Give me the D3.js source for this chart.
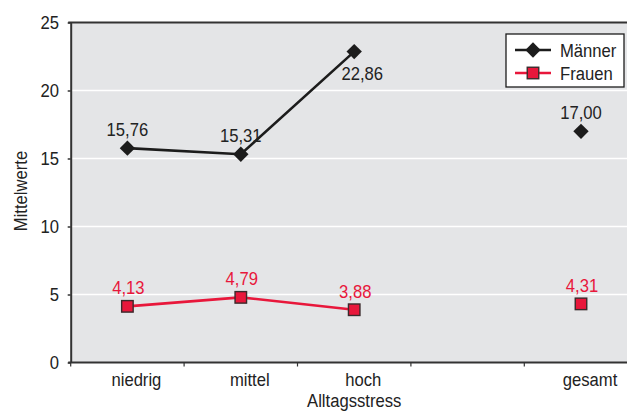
<!DOCTYPE html>
<html>
<head>
<meta charset="utf-8">
<script src="https://cdn.jsdelivr.net/npm/d3@7/dist/d3.min.js"></script>
<style>
  html, body { margin: 0; padding: 0; background: #ffffff; }
  svg { display: block; }
  text { font-family: "Liberation Sans", Arial, sans-serif; }
</style>
</head>
<body>
<script>
// Mean scores by level of everyday stress, plus the overall mean
const categories = ["niedrig", "mittel", "hoch", "", "gesamt"];
const maennerValues = [15.76, 15.31, 22.86, null, 17.00];
const frauenValues = [4.13, 4.79, 3.88, null, 4.31];
const maennerLabels = ["15,76", "15,31", "22,86", null, "17,00"];
const frauenLabels = ["4,13", "4,79", "3,88", null, "4,31"];
const yTicks = [0, 5, 10, 15, 20, 25];
const seriesNames = ["Männer", "Frauen"];

const W = 627, H = 412;
const plot = { left: 70.7, right: 637.7, top: 22.5, bottom: 362.5 };
const colMen = "#1c1c1c";
const colWomen = "#e8173b";
const colText = "#222222";
const fs = 18.5;
const squeeze = 0.9; // condensed lettering

const svg = d3.select("body").append("svg")
  .attr("width", W).attr("height", H);

// condensed text helper
function label(parent, px, py, str, anchor, color, rotate) {
  return parent.append("text")
    .attr("transform", `translate(${px},${py})` + (rotate ? ` rotate(${rotate})` : "") + ` scale(${squeeze},1)`)
    .attr("text-anchor", anchor)
    .attr("font-size", fs)
    .attr("fill", color)
    .text(str);
}

const x = d3.scaleBand().domain(categories).range([plot.left, plot.right]).padding(0);
const y = d3.scaleLinear().domain([0, 25]).range([plot.bottom, plot.top]);
const cx = (i) => x(categories[i]) + x.bandwidth() / 2;

// plot background
svg.append("rect")
  .attr("x", plot.left).attr("y", plot.top)
  .attr("width", plot.right - plot.left).attr("height", plot.bottom - plot.top)
  .attr("fill", "#e4e5e7");

// horizontal gridlines
svg.append("g").selectAll("line")
  .data(yTicks.filter(v => v > 0 && v < 25))
  .join("line")
  .attr("x1", plot.left).attr("x2", plot.right)
  .attr("y1", d => y(d)).attr("y2", d => y(d))
  .attr("stroke", "#ffffff").attr("stroke-width", 1.5);

// frame top
svg.append("line")
  .attr("x1", plot.left - 2.5).attr("x2", plot.right)
  .attr("y1", plot.top).attr("y2", plot.top)
  .attr("stroke", "#333333").attr("stroke-width", 2);

// y axis
const yAxis = svg.append("g")
  .attr("transform", `translate(${plot.left},0)`)
  .call(d3.axisLeft(y).tickValues(yTicks).tickSize(3).tickSizeOuter(0).tickFormat(""));
yAxis.select(".domain").attr("stroke", "#333333").attr("stroke-width", 2);
yAxis.selectAll(".tick line").attr("stroke", "#333333").attr("stroke-width", 1.5);
const yLab = svg.append("g");
yTicks.forEach(v => label(yLab, 59, y(v) + 6.6, d3.format("d")(v), "end", colText));

// x axis: baseline and ticks at band edges
svg.append("line")
  .attr("x1", plot.left - 2.5).attr("x2", plot.right)
  .attr("y1", plot.bottom).attr("y2", plot.bottom)
  .attr("stroke", "#333333").attr("stroke-width", 2);
svg.append("g").selectAll("line")
  .data(categories)
  .join("line")
  .attr("x1", d => x(d)).attr("x2", d => x(d))
  .attr("y1", plot.bottom).attr("y2", plot.bottom + 4)
  .attr("stroke", "#333333").attr("stroke-width", 1.2);
const xLab = svg.append("g");
categories.forEach((c, i) => { if (c) label(xLab, cx(i) + 9, 385.5, c, "middle", colText); });

// axis titles
label(svg, (plot.left + plot.right) / 2, 406.5, "Alltagsstress", "middle", colText);
label(svg, 27, 191, "Mittelwerte", "middle", colText, -90);

// lines
const line = d3.line()
  .defined(d => d.v != null)
  .x(d => cx(d.i))
  .y(d => y(d.v));
const menData = maennerValues.map((v, i) => ({ v, i, label: maennerLabels[i] }));
const womenData = frauenValues.map((v, i) => ({ v, i, label: frauenLabels[i] }));

svg.append("path").datum(womenData)
  .attr("d", line).attr("fill", "none")
  .attr("stroke", colWomen).attr("stroke-width", 2.6);
svg.append("path").datum(menData)
  .attr("d", line).attr("fill", "none")
  .attr("stroke", colMen).attr("stroke-width", 2.6);

// markers
const diamond = d3.symbol().type(d3.symbolDiamond2).size(150);
svg.append("g").selectAll("path")
  .data(menData.filter(d => d.v != null))
  .join("path")
  .attr("transform", d => `translate(${cx(d.i)},${y(d.v)})`)
  .attr("d", diamond)
  .attr("fill", colMen);

const sq = 11.5;
svg.append("g").selectAll("rect")
  .data(womenData.filter(d => d.v != null))
  .join("rect")
  .attr("x", d => cx(d.i) - sq / 2).attr("y", d => y(d.v) - sq / 2)
  .attr("width", sq).attr("height", sq)
  .attr("fill", colWomen).attr("stroke", "#3a2a2c").attr("stroke-width", 1.4);

// value labels
const vLab = svg.append("g");
menData.filter(d => d.v != null).forEach(d => {
  const below = d.i === 2;
  label(vLab, cx(d.i) + (below ? 8 : 0), y(d.v) + (below ? 28 : -12), d.label, "middle", colText);
});
womenData.filter(d => d.v != null).forEach(d => {
  label(vLab, cx(d.i) + 1, y(d.v) - 12, d.label, "middle", colWomen);
});

// legend
const lg = svg.append("g");
lg.append("rect")
  .attr("x", 506).attr("y", 34).attr("width", 118).attr("height", 53)
  .attr("fill", "#ffffff").attr("stroke", "#1c1c1c").attr("stroke-width", 1.3);
const legendRows = [
  { name: seriesNames[0], color: colMen, yy: 50 },
  { name: seriesNames[1], color: colWomen, yy: 73 }
];
legendRows.forEach((r, k) => {
  lg.append("line")
    .attr("x1", 515).attr("x2", 551).attr("y1", r.yy).attr("y2", r.yy)
    .attr("stroke", r.color).attr("stroke-width", 2.6);
  if (k === 0) {
    lg.append("path").attr("transform", `translate(533,${r.yy})`)
      .attr("d", diamond).attr("fill", colMen);
  } else {
    lg.append("rect").attr("x", 533 - sq / 2).attr("y", r.yy - sq / 2)
      .attr("width", sq).attr("height", sq)
      .attr("fill", colWomen).attr("stroke", "#3a2a2c").attr("stroke-width", 1.4);
  }
  label(lg, 560, r.yy + 6.5, r.name, "start", colText);
});
</script>
</body>
</html>
